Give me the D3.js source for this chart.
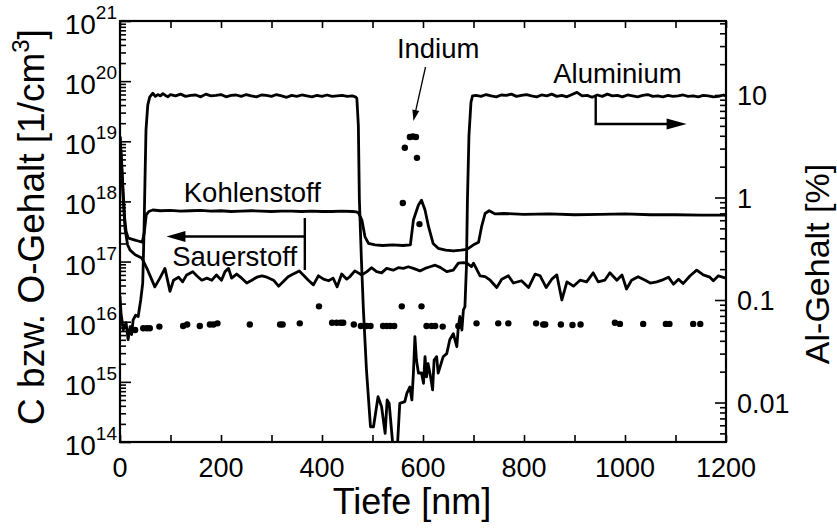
<!DOCTYPE html>
<html>
<head>
<meta charset="utf-8">
<script src="https://cdn.jsdelivr.net/npm/d3@7"></script>
<style>
  body { margin: 0; background: #fff; }
  svg { display: block; }
  text { font-family: "Liberation Sans", Arial, sans-serif; fill: #000; }
</style>
</head>
<body>
<div id="graph"></div>
<script>
"use strict";

// Aluminium content [%], right axis
let depthAl = [0, 2, 6.5, 12, 16, 20, 23, 26, 31, 36, 41, 45, 47.5, 49.5, 51.5, 55, 59,
	65, 70, 75, 80, 85, 90, 95, 100, 110, 120, 130, 140, 150, 160, 170, 180, 190, 200, 210, 220, 230, 240, 250,
	260, 270, 280, 290, 300, 310, 320, 330, 340, 350, 360, 370, 380, 390, 400, 410, 420, 430, 440, 450, 460, 466,
	469, 472, 474, 478, 482, 488, 496, 502, 511, 518, 525, 529, 533, 541, 549, 554, 564, 568, 574, 578, 581, 584,
	587, 591, 597, 601, 604, 607, 610, 615, 619, 622, 627, 630, 634, 640, 647, 650, 653, 660, 667, 670, 673, 677,
	680, 683, 686, 688, 691, 695, 698,
	705, 715, 725, 735, 745, 755, 765, 775, 785, 795, 805, 815, 825, 835, 845, 855, 865, 875, 885, 895, 905, 915,
	925, 935, 945, 955, 965, 975, 985, 995, 1005, 1015, 1025, 1035, 1045, 1055, 1065, 1075, 1085, 1095, 1105,
	1115, 1125, 1135, 1145, 1155, 1165, 1175, 1185, 1195, 1200];
let alPercent = [0.11, 0.075, 0.051, 0.06, 0.041, 0.055, 0.046, 0.064, 0.071, 0.069, 0.1, 0.146, 0.45, 1.5, 4.6, 8.0, 9.6,
	10.4, 9.7, 10.1, 9.8, 10.3, 9.9, 9.6, 10.1, 9.8, 10.2, 9.7, 9.9, 10.0, 9.6, 10.2, 9.8, 9.9, 10.1, 9.6, 9.9, 10.0, 9.7, 10.1,
	9.8, 9.6, 10.0, 9.9, 9.7, 10.1, 9.8, 9.5, 9.9, 9.7, 10.0, 9.8, 9.6, 9.9, 9.7, 10.0, 9.7, 9.8, 9.9, 9.7, 9.8, 9.6,
	9.3, 5.0, 0.95, 0.25, 0.08, 0.021, 0.0058, 0.0058, 0.0114, 0.0091, 0.005, 0.0106, 0.0098, 0.0035, 0.0035, 0.0098, 0.0102, 0.0123, 0.0142, 0.0106, 0.0194, 0.044,
	0.026, 0.0194, 0.0194, 0.0154, 0.028, 0.0178, 0.024, 0.0178, 0.0133, 0.026, 0.028, 0.0194, 0.0224, 0.028, 0.030, 0.035, 0.041, 0.047, 0.035, 0.055, 0.069, 0.051,
	0.080, 0.086, 0.21, 0.95, 4.0, 8.5, 9.8,
	9.9, 9.7, 10.1, 9.8, 9.6, 10.0, 9.9, 10.2, 9.7, 9.9, 10.1, 9.8, 9.6, 10.0, 9.8, 10.2, 9.7, 9.9, 9.6, 10.1, 10.6, 9.8,
	9.9, 9.5, 10.0, 9.7, 10.2, 9.8, 9.9, 9.6, 10.0, 9.8, 9.6, 9.9, 10.1, 9.7, 9.8, 9.6, 9.9, 9.7, 9.8,
	10.0, 9.7, 9.8, 9.6, 9.9, 9.8, 9.6, 9.7, 10.0, 9.8];

// Kohlenstoff [1/cm^3], left axis
let depthC = [0, 3, 6, 9, 12, 16, 20, 28, 36, 44, 48, 52, 57, 65, 80, 100, 120, 140, 160, 180, 200, 220, 240, 260,
	280, 300, 320, 340, 360, 380, 400, 420, 440, 460, 468, 472, 479, 485, 492, 505, 520, 540, 560, 575, 581, 591,
	597, 604, 611, 620, 630, 645, 660, 675, 687, 700, 710, 716, 723, 731, 743, 760, 800, 850, 900, 950, 1000, 1050,
	1100, 1150, 1200];
let carbon = [1.2e19, 5e18, 1.6e18, 5.5e17, 3.2e17, 2.5e17, 2.4e17, 2.3e17, 2.2e17, 2.1e17, 3e17, 6e17, 6.8e17, 7.2e17, 7.0e17, 7.1e17, 6.9e17, 7.0e17, 7.1e17, 6.9e17, 7.0e17, 6.8e17, 6.9e17, 7.0e17,
	6.9e17, 6.8e17, 6.9e17, 6.9e17, 6.8e17, 6.9e17, 6.8e17, 6.8e17, 6.9e17, 6.8e17, 6.7e17, 6.5e17, 4.9e17, 2.6e17, 2.0e17, 1.9e17, 1.85e17, 1.9e17, 1.85e17, 1.9e17, 4.9e17, 8.7e17,
	1.05e18, 7.2e17, 3.8e17, 2.0e17, 1.66e17, 1.55e17, 1.5e17, 1.55e17, 1.6e17, 1.9e17, 2.1e17, 3.8e17, 6.3e17, 7.0e17, 6.2e17, 6.3e17, 6.1e17, 6.2e17, 6.0e17, 6.1e17, 6.2e17, 6.0e17,
	6.0e17, 5.9e17, 5.9e17];

// Sauerstoff [1/cm^3], left axis
let depthO = [0, 3, 6, 10, 15, 20, 30, 43, 53, 69, 79, 89, 99, 106, 116, 124, 132, 144, 152, 162, 172, 182, 191,
	201, 208, 215, 221, 231, 241, 251, 261, 271, 281, 291, 304, 314, 323, 333, 343, 355, 363, 373, 383, 393, 403,
	413, 422, 430, 439, 449, 455, 465, 479, 489, 498, 508, 518, 528, 541, 551, 561, 571, 581, 594, 604, 614, 624,
	634, 647, 660, 670, 680, 687, 696, 700, 713, 723, 733, 746, 756, 769, 779, 795, 809, 822, 832, 844, 855, 865,
	875, 885, 898, 911, 924, 937, 947, 960, 970, 984, 994, 1003, 1013, 1026, 1040, 1050, 1063, 1073, 1086, 1096,
	1106, 1115, 1129, 1142, 1155, 1168, 1175, 1185, 1200];
let oxygen = [1.2e19, 4e18, 1.2e18, 3.5e17, 1.9e17, 1.55e17, 1.3e17, 1.15e17, 7.8e16, 3.8e16, 5.3e16, 7.7e16, 3.2e16, 4.9e16, 5.5e16, 4.6e16, 6.0e16, 6.8e16, 5.8e16, 4.9e16, 5.3e16, 4.9e16, 6.0e16,
	4.9e16, 6.8e16, 7.7e16, 5.3e16, 6.2e16, 5.3e16, 4.4e16, 4.9e16, 5.5e16, 5.8e16, 5.5e16, 4.9e16, 3.9e16, 4.6e16, 5.6e16, 6.2e16, 7.0e16, 6.0e16, 4.9e16, 4.1e16, 5.8e16, 5.1e16,
	4.8e16, 5.3e16, 3.8e16, 6.2e16, 5.1e16, 5.6e16, 7.0e16, 6.0e16, 6.8e16, 7.9e16, 6.8e16, 6.5e16, 7.7e16, 7.2e16, 7.9e16, 7.7e16, 8.2e16, 7.7e16, 7.0e16, 7.7e16, 8.2e16, 8.7e16,
	8.0e16, 6.8e16, 7.2e16, 9.4e16, 9.6e16, 9.4e16, 8.2e16, 9.4e16, 5.8e16, 5.6e16, 4.9e16, 3.7e16, 5.1e16, 5.8e16, 4.4e16, 4.8e16, 3.7e16, 6.2e16, 5.8e16, 3.7e16, 5.1e16, 6.0e16,
	2.3e16, 4.6e16, 3.9e16, 4.9e16, 4.6e16, 6.5e16, 4.6e16, 4.9e16, 6.5e16, 4.9e16, 6.0e16, 3.5e16, 4.9e16, 5.6e16, 4.9e16, 4.4e16, 4.6e16, 4.9e16, 5.5e16, 4.2e16,
	5.1e16, 4.3e16, 5.8e16, 7.2e16, 6.0e16, 5.5e16, 4.8e16, 5.8e16, 5.3e16];

// Indium [1/cm^3], left axis, dots
let depthIn = [30, 46, 53, 59, 78, 125, 133, 158, 178, 185, 193, 257, 317, 322, 356, 394, 420, 429, 437, 442, 463,
	477, 488, 496, 521, 528, 535, 543, 558, 560, 564, 574, 580, 586, 588, 593, 597, 607, 617, 624, 639, 670, 706,
	749, 769, 824, 838, 842, 873, 896, 912, 980, 990, 1036, 1081, 1088, 1135, 1149];
let indium = [7.3e15, 7.8e15, 7.8e15, 7.8e15, 8.3e15, 8.5e15, 9.0e15, 8.5e15, 9.0e15, 9.0e15, 9.4e15, 9.0e15, 9.0e15, 9.0e15, 9.4e15, 1.8e16, 9.6e15, 9.6e15, 9.6e15, 9.6e15, 9.0e15,
	8.5e15, 8.5e15, 8.5e15, 8.5e15, 8.5e15, 8.5e15, 8.5e15, 1.8e16, 9.4e17, 7.8e18, 1.18e19, 1.2e19, 1.18e19, 5.3e18, 4.2e17, 1.8e16, 8.5e15, 8.5e15, 8.5e15, 8.3e15, 8.5e15, 9.4e15,
	9.4e15, 9.4e15, 9.4e15, 9.0e15, 9.0e15, 9.0e15, 8.8e15, 9.0e15, 9.6e15, 9.2e15, 9.2e15, 9.2e15, 9.2e15, 9.2e15, 9.2e15];

let xTicks = [0, 200, 400, 600, 800, 1000, 1200];
let leftExponents = [14, 15, 16, 17, 18, 19, 20, 21];
let rightTicks = [0.01, 0.1, 1, 10];
let rightTickLabels = ["0.01", "0.1", "1", "10"];

let width = 837, height = 531;
let margin = { top: 21, right: 111, bottom: 89, left: 120 };

let svg = d3.select("#graph").append("svg")
	.attr("width", width)
	.attr("height", height);

let x = d3.scaleLinear().domain([0, 1200]).range([margin.left, width - margin.right]);
let yL = d3.scaleLog().domain([1e14, 1e21]).range([height - margin.bottom, margin.top]);
let yR = d3.scaleLog().domain([0.00412, 52.7]).range([height - margin.bottom, margin.top]);

svg.append("clipPath").attr("id", "plotClip")
	.append("rect")
	.attr("x", margin.left).attr("y", margin.top)
	.attr("width", x(1200) - x(0)).attr("height", yL(1e14) - yL(1e21));

let plot = svg.append("g").attr("clip-path", "url(#plotClip)");

function drawLine(depths, values, yScale)
{
	let pts = depths.map(function (d, i) { return [d, values[i]]; });
	plot.append("path")
		.datum(pts)
		.attr("fill", "none")
		.attr("stroke", "#000")
		.attr("stroke-width", 2.8)
		.attr("stroke-linejoin", "round")
		.attr("d", d3.line().x(function (d) { return x(d[0]); }).y(function (d) { return yScale(d[1]); }));
}

drawLine(depthAl, alPercent, yR);
drawLine(depthC, carbon, yL);
drawLine(depthO, oxygen, yL);

plot.selectAll(".dot")
	.data(depthIn.map(function (d, i) { return [d, indium[i]]; }))
	.enter().append("circle")
	.attr("class", "dot")
	.attr("cx", function (d) { return x(d[0]); })
	.attr("cy", function (d) { return yL(d[1]); })
	.attr("r", 3.2)
	.attr("fill", "#000");

// ticks, all pointing inwards
let minorX = d3.range(0, 1201, 100);

svg.append("g")
	.attr("transform", "translate(0," + yL(1e14) + ")")
	.call(d3.axisBottom(x).tickValues(minorX).tickSize(-7).tickFormat(""));
svg.append("g")
	.attr("transform", "translate(0," + yL(1e21) + ")")
	.call(d3.axisTop(x).tickValues(minorX).tickSize(-7).tickFormat(""));

let leftMajor = leftExponents.map(function (e) { return Math.pow(10, e); });
let leftMinor = [];
leftExponents.slice(0, -1).forEach(function (e)
{
	for (let k = 2; k <= 9; k++) leftMinor.push(k * Math.pow(10, e));
});
svg.append("g")
	.attr("transform", "translate(" + x(0) + ",0)")
	.call(d3.axisLeft(yL).tickValues(leftMajor).tickSize(-11).tickFormat(""));
svg.append("g")
	.attr("transform", "translate(" + x(0) + ",0)")
	.call(d3.axisLeft(yL).tickValues(leftMinor).tickSize(-6).tickFormat(""));

let rightMinor = [];
[-3, -2, -1, 0, 1].forEach(function (e)
{
	for (let k = 2; k <= 9; k++)
	{
		let v = k * Math.pow(10, e);
		if (v > 0.00412 && v < 52.7) rightMinor.push(v);
	}
});
svg.append("g")
	.attr("transform", "translate(" + x(1200) + ",0)")
	.call(d3.axisRight(yR).tickValues(rightTicks).tickSize(-11).tickFormat(""));
svg.append("g")
	.attr("transform", "translate(" + x(1200) + ",0)")
	.call(d3.axisRight(yR).tickValues(rightMinor).tickSize(-6).tickFormat(""));

svg.selectAll(".domain").remove();
svg.selectAll(".tick line").attr("stroke", "#000").attr("stroke-width", 1.6);

// frame
svg.append("rect")
	.attr("x", x(0)).attr("y", yL(1e21))
	.attr("width", x(1200) - x(0)).attr("height", yL(1e14) - yL(1e21))
	.attr("fill", "none").attr("stroke", "#000").attr("stroke-width", 2.2);

// tick labels
svg.selectAll(".xlab")
	.data(xTicks)
	.enter().append("text")
	.attr("x", function (d) { return x(d); })
	.attr("y", 477)
	.attr("text-anchor", "middle")
	.attr("font-size", 27)
	.text(function (d) { return d; });

let ylab = svg.selectAll(".ylab")
	.data(leftExponents)
	.enter().append("text")
	.attr("x", 117)
	.attr("y", function (d) { return yL(Math.pow(10, d)) + 13; })
	.attr("text-anchor", "end")
	.attr("font-size", 28);
ylab.append("tspan").text("10");
ylab.append("tspan").attr("dy", -15).attr("font-size", 19).text(function (d) { return d; });

svg.selectAll(".rlab")
	.data(rightTicks)
	.enter().append("text")
	.attr("x", 737)
	.attr("y", function (d) { return yR(d) + 10; })
	.attr("font-size", 27)
	.text(function (d, i) { return rightTickLabels[i]; });

// axis titles
svg.append("text")
	.attr("x", 412)
	.attr("y", 514)
	.attr("text-anchor", "middle")
	.attr("font-size", 36)
	.text("Tiefe [nm]");

let lt = svg.append("text")
	.attr("transform", "translate(44,227) rotate(-90)")
	.attr("text-anchor", "middle")
	.attr("font-size", 37);
lt.append("tspan").text("C bzw. O-Gehalt [1/cm");
lt.append("tspan").attr("dy", -15).attr("font-size", 24).text("3");
lt.append("tspan").attr("dy", 15).text("]");

svg.append("text")
	.attr("transform", "translate(829,264) rotate(-90)")
	.attr("text-anchor", "middle")
	.attr("font-size", 34)
	.text("Al-Gehalt [%]");

// annotations
function label(txt, cx, by)
{
	svg.append("text").attr("x", cx).attr("y", by)
		.attr("text-anchor", "middle").attr("font-size", 27.5).text(txt);
}
label("Kohlenstoff", x(262), 202);
label("Sauerstoff", x(227), 266);
label("Indium", x(630), 58);
label("Aluminium", x(985), 83);

function arrowHead(tipX, tipY, angle, len, half)
{
	let a = angle;
	let bx = tipX - len * Math.cos(a), by = tipY - len * Math.sin(a);
	let px = -Math.sin(a) * half, py = Math.cos(a) * half;
	svg.append("path")
		.attr("d", "M" + tipX + "," + tipY + "L" + (bx + px) + "," + (by + py) + "L" + (bx - px) + "," + (by - py) + "Z")
		.attr("fill", "#000");
}

// Sauerstoff arrow
svg.append("path")
	.attr("d", "M" + x(366) + "," + 218 + "V" + 270 + "M" + x(366) + "," + 236.5 + "H" + x(105))
	.attr("fill", "none").attr("stroke", "#000").attr("stroke-width", 2.4);
arrowHead(x(92), 236.5, Math.PI, 19, 5.5);

// Aluminium arrow
svg.append("path")
	.attr("d", "M" + x(942) + "," + 96 + "V" + 124 + "H" + x(1085))
	.attr("fill", "none").attr("stroke", "#000").attr("stroke-width", 2.4);
arrowHead(x(1122), 124, 0, 20, 5.5);

// Indium arrow
let ia = [x(605), 67], ib = [x(581), 121];
let ang = Math.atan2(ib[1] - ia[1], ib[0] - ia[0]);
svg.append("line")
	.attr("x1", ia[0]).attr("y1", ia[1])
	.attr("x2", ib[0] - 8 * Math.cos(ang)).attr("y2", ib[1] - 8 * Math.sin(ang))
	.attr("stroke", "#000").attr("stroke-width", 1.3);
arrowHead(ib[0], ib[1], ang, 11, 3.5);
</script>
</body>
</html>
